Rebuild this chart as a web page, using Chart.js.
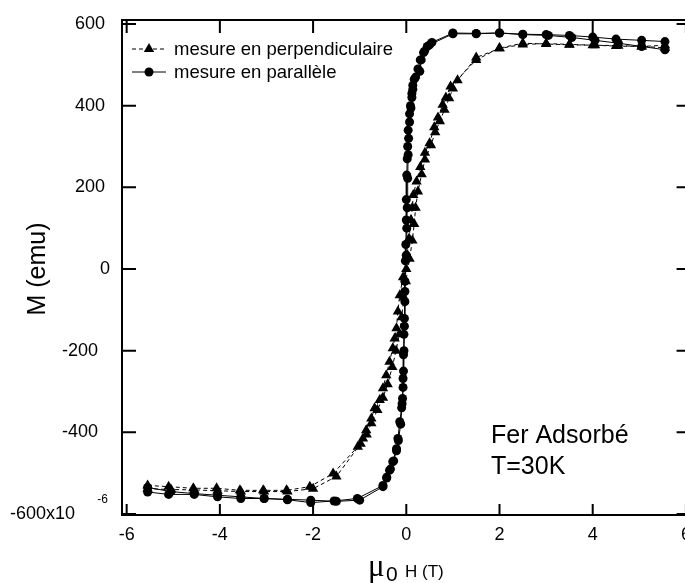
<!DOCTYPE html>
<html>
<head>
<meta charset="utf-8">
<script src="https://cdn.jsdelivr.net/npm/chart.js@4.4.1/dist/chart.umd.min.js"></script>
<style>
html, body { margin: 0; padding: 0; background: #fff; overflow: hidden; }
#wrap { width: 700px; height: 583px; position: relative; }
</style>
</head>
<body>
<div id="wrap"><canvas id="myChart"></canvas></div>
<script>
const FONT = "'Liberation Sans', Arial, Helvetica, sans-serif";

// mesure en perpendiculaire : branche descendante (+5.5 -> -5.5) puis montante
const perpH = [5.55, 5.05, 4.55, 4.05, 3.5, 3.0, 2.5, 2.0, 1.5, 0.95,
  0.85, 0.78, 0.68, 0.6, 0.5, 0.4, 0.3, 0.22, 0.15, 0.13,
  0.1, 0.06, 0.02, 0.0, -0.07, -0.14, -0.18, -0.21, -0.25, -0.29,
  -0.36, -0.43, -0.5, -0.57, -0.68, -0.75, -0.86, -0.93, -1.04, -1.57,
  -2.07, -2.57, -3.07, -3.57, -4.07, -4.57, -5.1, -5.55,
  -5.55, -5.05, -4.55, -4.05, -3.55, -3.05, -2.55, -2.0, -1.5, -0.98,
  -0.85, -0.75, -0.62, -0.5, -0.4, -0.3, -0.22, -0.15, -0.1, -0.05,
  -0.01, 0.07, 0.13, 0.17, 0.2, 0.25, 0.33, 0.4, 0.53, 0.62,
  0.72, 0.82, 0.92, 1.0, 1.1, 1.5, 2.0, 2.5, 3.0, 3.5,
  4.0, 4.5, 5.05, 5.55];
const perpM = [548, 545, 547, 548, 549, 551, 553, 541, 512, 447,
  420, 402, 371, 347, 308, 285, 250, 214, 181, 150,
  120, 75, 34, 0, -20, -64, -104, -145, -170, -194,
  -227, -260, -292, -321, -341, -366, -395, -415, -435, -501,
  -533, -542, -542, -542, -537, -537, -533, -530,
  -538, -540, -541, -543, -545, -545, -545, -538, -508, -428,
  -405, -378, -345, -315, -282, -240, -200, -160, -118, -70,
  -30, 25, 70, 110, 150, 190, 232, 268, 303, 335,
  362, 390, 418, 442, 462, 518, 540, 550, 552, 550,
  548, 546, 545, 542];

// mesure en parallèle : branche descendante puis montante
const paraH = [5.55, 5.05, 4.55, 4.05, 3.55, 3.05, 2.5, 2.0, 1.5, 1.0,
  0.5, 0.39, 0.32, 0.29, 0.2, 0.14, 0.12, 0.09, 0.07, 0.04,
  0.03, 0.02, 0.01, 0.0, 0.0, -0.01, -0.02, -0.03, -0.03, -0.04,
  -0.05, -0.06, -0.07, -0.09, -0.12, -0.17, -0.21, -0.27, -0.34, -0.42,
  -0.5, -1.0, -1.5, -2.05, -2.55, -3.05, -3.55, -4.05, -4.55, -5.1, -5.55,
  -5.55, -5.05, -4.55, -4.05, -3.55, -3.05, -2.55, -2.05, -1.55, -1.05,
  -0.5, -0.42, -0.36, -0.29, -0.21, -0.18, -0.14, -0.1, -0.08, -0.07,
  -0.06, -0.05, -0.04, -0.03, 0.0, 0.01, 0.02, 0.03, 0.04, 0.05,
  0.07, 0.1, 0.12, 0.14, 0.17, 0.25, 0.3, 0.37, 0.45, 0.55,
  1.0, 1.5, 2.0, 2.5, 3.0, 3.5, 4.0, 4.5, 5.05, 5.55];
const paraM = [537, 545, 553, 560, 567, 572, 574, 578, 576, 576,
  549, 533, 512, 484, 470, 450, 430, 400, 380, 340,
  300, 270, 230, 170, 120, 60, 20, -30, -80, -140,
  -200, -250, -290, -330, -380, -420, -445, -470, -490, -510,
  -533, -566, -569, -566, -564, -562, -562, -558, -552, -552, -546,
  -535, -545, -550, -554, -558, -562, -565, -572, -568, -562,
  -530, -512, -493, -472, -440, -415, -374, -340, -317, -268,
  -210, -160, -121, -55, 34, 100, 150, 222, 280, 320,
  360, 394, 420, 440, 465, 490, 512, 530, 545, 555,
  578, 577, 578, 575, 574, 572, 568, 563, 560, 557];

const seriesNames = ['mesure en perpendiculaire', 'mesure en parallèle'];
const xTicks = [-6, -4, -2, 0, 2, 4, 6];
const yTicks = [-600, -400, -200, 0, 200, 400, 600];
const noteLines = ['Fer Adsorbé', 'T=30K'];

const toPts = (hs, ms) => hs.map((h, i) => ({x: h, y: ms[i]}));

const framePlugin = {
  id: 'framePlugin',
  afterDraw(chart) {
    const c = chart.ctx, a = chart.chartArea;
    const xs = chart.scales.x, ys = chart.scales.y;
    c.save();
    c.strokeStyle = '#000';
    c.fillStyle = '#000';
    c.lineWidth = 2;
    c.strokeRect(a.left, a.top, a.right - a.left, a.bottom - a.top);

    // ticks vers l'intérieur sur les quatre côtés
    c.beginPath();
    xs.ticks.forEach(t => {
      const px = xs.getPixelForValue(t.value);
      c.moveTo(px, a.bottom); c.lineTo(px, a.bottom - 11);
      c.moveTo(px, a.top); c.lineTo(px, a.top + 13);
    });
    ys.ticks.forEach(t => {
      const py = ys.getPixelForValue(t.value);
      c.moveTo(a.left, py); c.lineTo(a.left + 14, py);
      c.moveTo(a.right, py); c.lineTo(a.right - 14, py);
    });
    c.stroke();

    // étiquettes de l'axe y
    c.textBaseline = 'middle';
    c.textAlign = 'right';
    ys.ticks.forEach(t => {
      const py = ys.getPixelForValue(t.value);
      c.font = '18px ' + FONT;
      if (t.value === yTicks[0]) {
        c.fillText(t.value + 'x10', a.left - 47, py);
        c.font = '12px ' + FONT;
        c.fillText('-6', a.left - 14, py - 14);
      } else {
        const off = t.value > 0 ? 17 : (t.value === 0 ? 12 : 24);
        c.fillText(String(t.value), a.left - off, py);
      }
    });

    // titre axe y
    c.save();
    c.translate(38, ys.getPixelForValue(0));
    c.rotate(-Math.PI / 2);
    c.textAlign = 'center';
    c.font = '25px ' + FONT;
    c.fillText('M (emu)', 0, 0);
    c.restore();

    // titre axe x
    c.textAlign = 'left';
    c.textBaseline = 'alphabetic';
    c.font = '31px "Liberation Serif", serif';
    c.fillText('μ', 368, 576);
    c.font = '21px ' + FONT;
    c.fillText('0', 386, 581);
    c.font = '17px ' + FONT;
    c.fillText('H (T)', 405, 577);

    // légende
    const ds = chart.data.datasets;
    const rows = [49, 72];
    ds.forEach((d, i) => {
      const y = rows[i];
      c.save();
      c.lineWidth = 1;
      c.setLineDash(d.borderDash || []);
      c.beginPath();
      c.moveTo(132, y); c.lineTo(166, y);
      c.stroke();
      c.restore();
      Chart.helpers.drawPoint(c, {pointStyle: d.pointStyle, radius: d.pointRadius, rotation: 0, borderWidth: 0}, 149, y);
      c.font = '18.5px ' + FONT;
      c.textBaseline = 'middle';
      c.fillText(d.label, 174, y + 1);
    });

    // annotation
    c.font = '25px ' + FONT;
    c.textBaseline = 'alphabetic';
    c.fillText(noteLines[0], 491, 443);
    c.fillText(noteLines[1], 491, 474);
    c.restore();
  }
};

const ctx = document.getElementById('myChart');
new Chart(ctx, {
  type: 'scatter',
  data: {
    datasets: [{
      label: seriesNames[0],
      data: toPts(perpH, perpM),
      showLine: true,
      borderColor: '#000',
      borderWidth: 1,
      borderDash: [4, 3],
      pointStyle: 'triangle',
      pointRadius: 6,
      pointBackgroundColor: '#000',
      pointBorderColor: '#000',
      pointBorderWidth: 0
    }, {
      label: seriesNames[1],
      data: toPts(paraH, paraM),
      showLine: true,
      borderColor: '#000',
      borderWidth: 1,
      pointStyle: 'circle',
      pointRadius: 4.5,
      pointBackgroundColor: '#000',
      pointBorderColor: '#000',
      pointBorderWidth: 0
    }]
  },
  options: {
    responsive: true,
    maintainAspectRatio: false,
    animation: false,
    layout: { padding: { top: 20, right: 9, left: 0, bottom: 0 } },
    scales: {
      x: {
        type: 'linear',
        min: -6.1,
        max: 6.1,
        afterBuildTicks: s => { s.ticks = xTicks.map(v => ({value: v})); },
        afterFit: s => { s.height = 68; },
        grid: { display: false, drawTicks: false },
        border: { display: false },
        ticks: {
          color: '#000',
          font: { family: FONT, size: 18 },
          padding: 9,
          autoSkip: false,
          maxRotation: 0
        }
      },
      y: {
        type: 'linear',
        min: -602.4,
        max: 609.8,
        afterBuildTicks: s => { s.ticks = yTicks.map(v => ({value: v})); },
        afterFit: s => { s.width = 122; },
        grid: { display: false },
        border: { display: false },
        ticks: { display: false }
      }
    },
    plugins: {
      legend: { display: false },
      tooltip: { enabled: false }
    }
  },
  plugins: [framePlugin]
});
</script>
</body>
</html>
